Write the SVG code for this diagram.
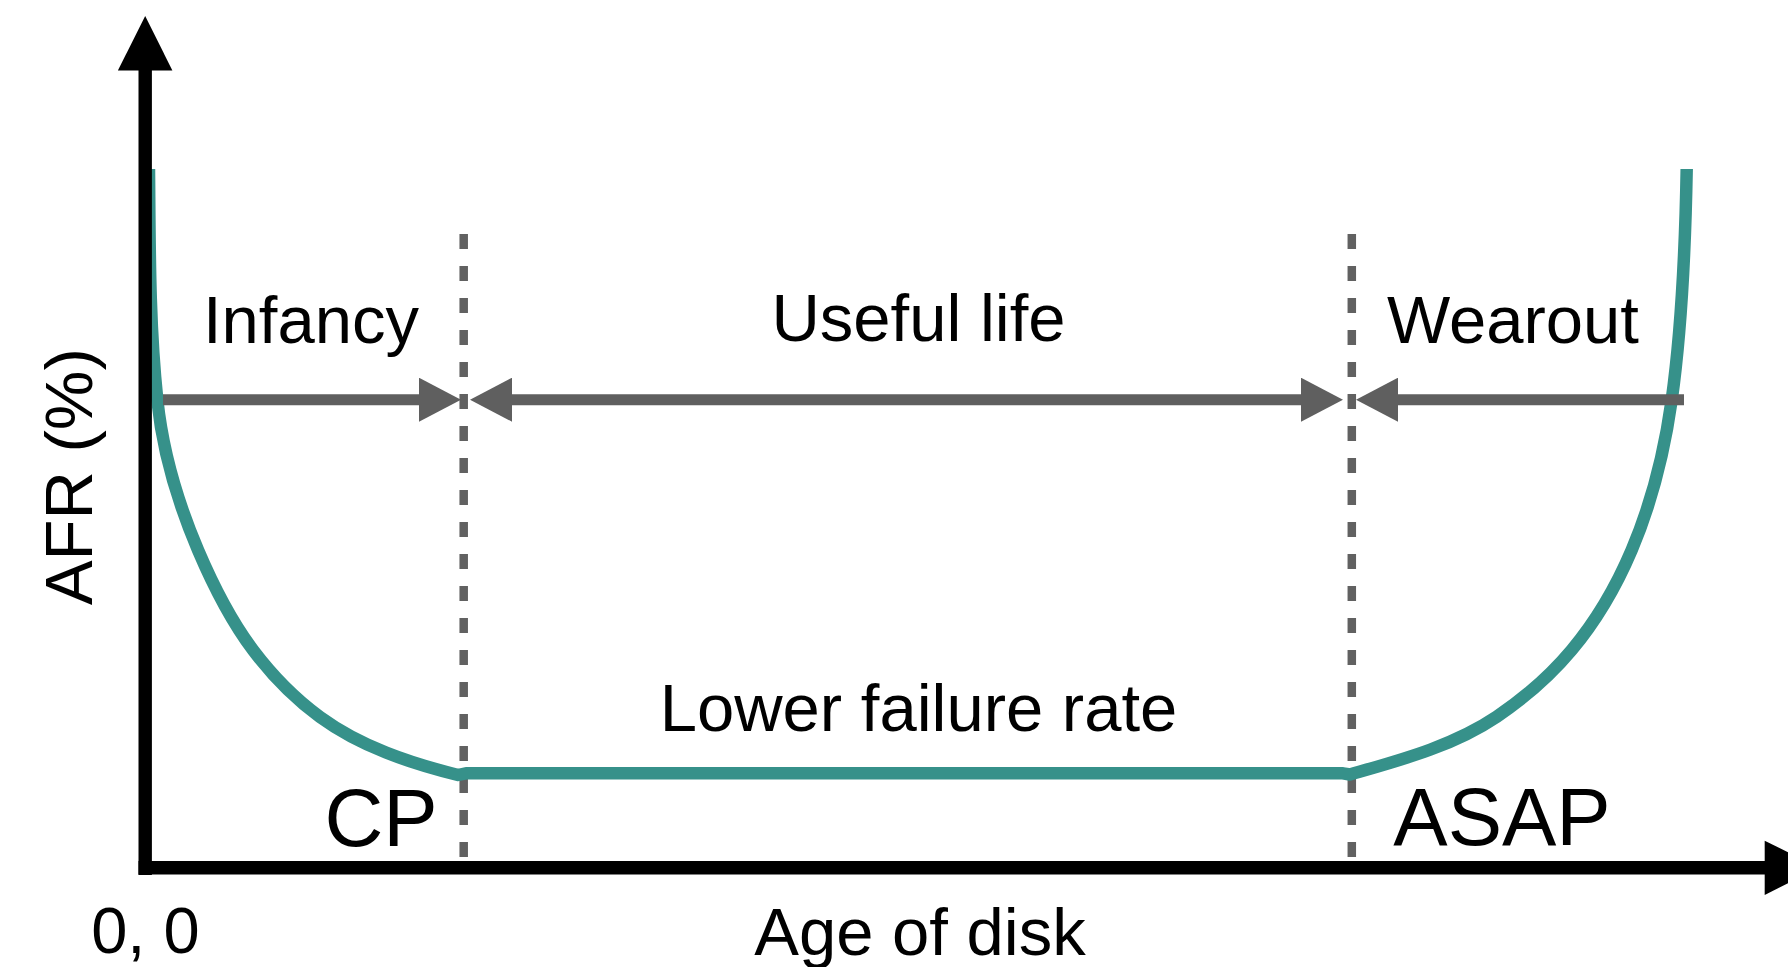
<svg xmlns="http://www.w3.org/2000/svg" width="1788" height="967" viewBox="0 0 1788 967">
  <style>
    .label { font-family: "Liberation Sans", Arial, Helvetica, sans-serif; font-size: 67px; fill: #000000; }
    .big { font-size: 81.5px; }
    .origin { font-size: 65px; }
    .axis { stroke: #000000; stroke-width: 13.4; fill: none; }
    .axis-head { fill: #000000; }
    .curve { stroke: #36918a; stroke-width: 12.5; fill: none; stroke-linecap: butt; stroke-linejoin: round; }
    .divider { stroke: #616161; stroke-width: 8.5; stroke-dasharray: 15 17; fill: none; }
    .span { stroke: #5f5f5f; stroke-width: 11; fill: none; }
  </style>
  <defs>
    <marker id="head" markerUnits="userSpaceOnUse" markerWidth="42" markerHeight="44" refX="0" refY="22" orient="auto-start-reverse" viewBox="0 0 42 44">
      <path d="M0,0 L42,22 L0,44 Z" fill="#5f5f5f"/>
    </marker>
  </defs>

  <rect width="1788" height="967" fill="#ffffff"/>

  <!-- phase boundaries -->
  <g id="dividers">
    <line class="divider" x1="463.7" y1="234" x2="463.7" y2="858"/>
    <line class="divider" x1="1351.8" y1="234" x2="1351.8" y2="858"/>
  </g>

  <!-- bathtub curve: infant mortality, flat useful life, wear-out -->
  <g id="bathtub-curve">
    <path class="curve" d="M149,169
      C149.7,246 149.25,323.4 157.3,400
      C162.7,451.5 177.7,502.3 198,550
      C212.9,585 230.1,619.6 253,650
      C272,675.2 294.5,698.3 320,717
      C360.3,746.5 409.6,762.9 458,775
      L466,773.3 L1343,773.3 L1350,774.5
      C1400.5,760 1453.1,746.1 1496.7,716.7
      C1524.5,698 1550.2,675.7 1571.7,650
      C1596.7,620.2 1616.5,585.8 1631.7,550
      C1651.9,502.4 1664.5,451.2 1671.7,400
      C1682.4,323.6 1685.35,246.2 1686.7,169"/>
  </g>

  <!-- axes, drawn over the curve -->
  <g id="axes">
    <line class="axis" x1="145.2" y1="68" x2="145.2" y2="875"/>
    <polygon class="axis-head" points="145.2,16 117.9,70.5 172.4,70.5"/>
    <line class="axis" x1="138.5" y1="867.7" x2="1766" y2="867.7"/>
    <polygon class="axis-head" points="1764.7,840.7 1764.7,895 1819,867.8"/>
  </g>

  <!-- phase span connectors -->
  <g id="connectors">
    <line class="span" x1="163" y1="399.7" x2="419" y2="399.7" marker-end="url(#head)"/>
    <line class="span" x1="512" y1="399.7" x2="1301" y2="399.7" marker-start="url(#head)" marker-end="url(#head)"/>
    <line class="span" x1="1398" y1="399.7" x2="1684" y2="399.7" marker-start="url(#head)"/>
  </g>

  <!-- phase labels -->
  <g id="infancy">
    <text class="label" x="311" y="342.7" text-anchor="middle">Infancy</text>
  </g>
  <g id="useful-life">
    <text class="label" x="918.5" y="340.7" text-anchor="middle">Useful life</text>
  </g>
  <g id="wearout">
    <text class="label" x="1513" y="342.7" text-anchor="middle">Wearout</text>
  </g>
  <g id="lower-failure-rate">
    <text class="label" x="918.5" y="731" text-anchor="middle">Lower failure rate</text>
  </g>
  <g id="cp">
    <text class="label big" x="381" y="845.7" text-anchor="middle">CP</text>
  </g>
  <g id="asap">
    <text class="label big" x="1502" y="845" text-anchor="middle">ASAP</text>
  </g>

  <!-- axis labels -->
  <g id="axis-labels">
    <text class="label origin" x="145.4" y="953.3" text-anchor="middle">0, 0</text>
    <text class="label" x="920" y="955" text-anchor="middle">Age of disk</text>
    <text class="label" transform="translate(91.8,476.7) rotate(-90)" x="0" y="0" text-anchor="middle">AFR (%)</text>
  </g>
</svg>
